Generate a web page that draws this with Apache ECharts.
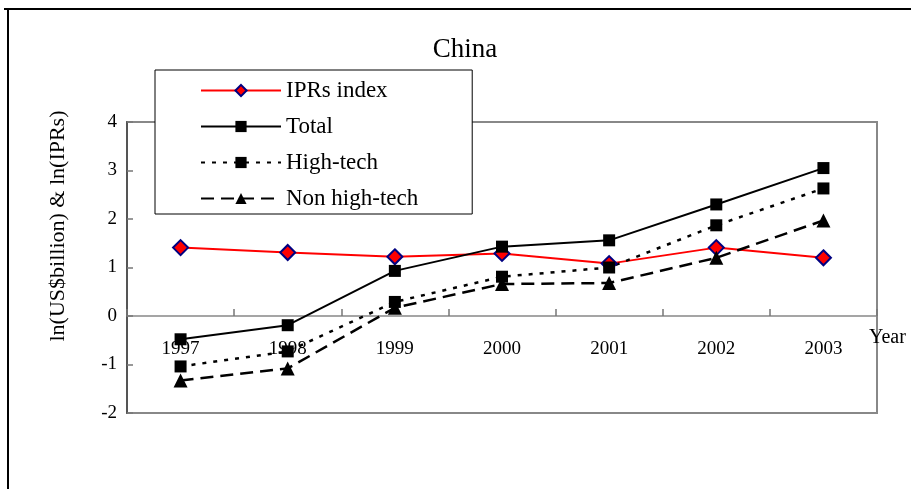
<!DOCTYPE html>
<html>
<head>
<meta charset="utf-8">
<script src="https://cdn.jsdelivr.net/npm/echarts@6/dist/echarts.min.js"></script>
<style>
  html, body { margin: 0; padding: 0; background: #fff; }
  #main { width: 911px; height: 489px; }
</style>
</head>
<body>
<div id="main"></div>
<script>
var years = ['1997', '1998', '1999', '2000', '2001', '2002', '2003'];
var iprsIndex = [1.41, 1.31, 1.22, 1.29, 1.08, 1.41, 1.20];
var total = [-0.48, -0.19, 0.93, 1.43, 1.56, 2.30, 3.05];
var highTech = [-1.04, -0.73, 0.29, 0.81, 1.00, 1.87, 2.63];
var nonHighTech = [-1.33, -1.08, 0.17, 0.66, 0.68, 1.20, 1.97];

var serif = '"Liberation Serif", "DejaVu Serif", serif';

var option = {
  backgroundColor: '#fff',
  animation: false,
  title: {
    text: 'China',
    left: 460,
    top: 31,
    textAlign: 'center',
    textStyle: { fontFamily: serif, fontSize: 27, fontWeight: 'normal', color: '#000' }
  },
  legend: {
    orient: 'vertical',
    left: 155,
    top: 70,
    padding: [9, 54, 4, 45],
    itemWidth: 80,
    itemHeight: 14,
    itemGap: 13,
    backgroundColor: '#fff',
    borderColor: '#000',
    borderWidth: 1,
    textStyle: { fontFamily: serif, fontSize: 23, color: '#000', lineHeight: 22 }
  },
  grid: {
    left: 127,
    top: 122,
    right: 34,
    bottom: 76,
    outerBoundsMode: 'none',
    show: true,
    borderColor: '#888',
    borderWidth: 2
  },
  xAxis: {
    type: 'category',
    data: years,
    position: 'bottom',
    offset: -97,
    name: 'Year',
    nameLocation: 'end',
    nameGap: -8,
    nameTextStyle: { fontFamily: serif, fontSize: 20, color: '#000', align: 'left', verticalAlign: 'top', padding: [12, 0, 0, 0] },
    axisLine: { onZero: false, lineStyle: { color: '#888', width: 1.5 } },
    axisTick: { show: true, inside: true, length: 7, lineStyle: { color: '#777', width: 1.5 } },
    axisLabel: { margin: 24, fontFamily: serif, fontSize: 19, color: '#000' },
    splitLine: { show: false }
  },
  yAxis: {
    type: 'value',
    min: -2,
    max: 4,
    interval: 1,
    axisLine: { show: true, lineStyle: { color: '#555', width: 2 } },
    axisTick: { show: true, inside: true, length: 6, lineStyle: { color: '#777', width: 1.5 } },
    axisLabel: { margin: 10, fontFamily: serif, fontSize: 19, color: '#000' },
    splitLine: { show: false }
  },
  graphic: [
    {
      type: 'text',
      x: 58,
      y: 226,
      rotation: Math.PI / 2,
      style: {
        text: 'ln(US$billion) & ln(IPRs)',
        font: '22px ' + serif,
        fill: '#000',
        align: 'center',
        verticalAlign: 'middle'
      }
    },
    { type: 'line', shape: { x1: 4, y1: 9, x2: 911, y2: 9 }, style: { stroke: '#000', lineWidth: 2 } },
    { type: 'line', shape: { x1: 8, y1: 9, x2: 8, y2: 489 }, style: { stroke: '#000', lineWidth: 2 } }
  ],
  series: [
    {
      name: 'IPRs index',
      type: 'line',
      data: iprsIndex,
      symbol: 'diamond',
      symbolSize: 15,
      lineStyle: { color: '#ff0000', width: 2 },
      itemStyle: { color: '#ff0000', borderColor: '#000080', borderWidth: 2 }
    },
    {
      name: 'Total',
      type: 'line',
      data: total,
      symbol: 'rect',
      symbolSize: 12,
      lineStyle: { color: '#000', width: 2 },
      itemStyle: { color: '#000' }
    },
    {
      name: 'High-tech',
      type: 'line',
      data: highTech,
      symbol: 'rect',
      symbolSize: 12,
      lineStyle: { color: '#000', width: 2.5, type: [4, 7] },
      itemStyle: { color: '#000' }
    },
    {
      name: 'Non high-tech',
      type: 'line',
      data: nonHighTech,
      symbol: 'triangle',
      symbolSize: 14,
      lineStyle: { color: '#000', width: 2.5, type: [13, 7] },
      itemStyle: { color: '#000' }
    }
  ]
};

var myChart = echarts.init(document.getElementById('main'));
myChart.setOption(option);
</script>
</body>
</html>
